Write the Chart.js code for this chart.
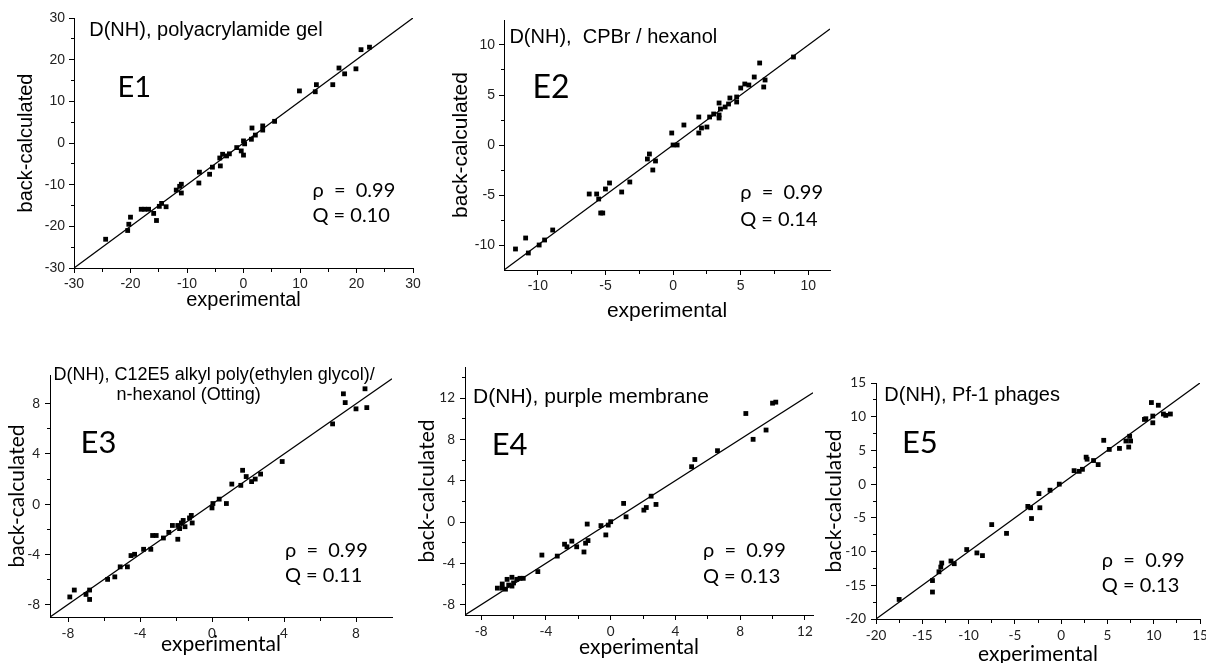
<!DOCTYPE html>
<html>
<head>
<meta charset="utf-8">
<script src="https://cdn.jsdelivr.net/npm/chart.js@4.4.1/dist/chart.umd.min.js"></script>
<style>
  html, body { margin: 0; padding: 0; background: #fff; overflow: hidden; }
  body { position: relative; width: 1206px; height: 663px; }
  canvas { position: absolute; }
</style>
</head>
<body>
<canvas id="e1"></canvas>
<canvas id="e2"></canvas>
<canvas id="e3"></canvas>
<canvas id="e4"></canvas>
<canvas id="e5"></canvas>
<script>
// E1: polyacrylamide gel
var e1Exp  = [-24.4, -20.5, -20.3, -20.0, -18.1, -17.5, -16.8, -15.9, -15.4, -14.9, -14.5, -13.7, -11.9, -11.3, -11.0, -11.0, -7.9, -7.8, -6.0, -5.5, -4.1, -4.2, -3.7, -3.0, -2.5, -1.2, -0.4, 0.0, 0.0, 0.2, 1.4, 1.5, 2.1, 3.4, 3.4, 5.5, 9.9, 12.7, 12.9, 15.8, 16.9, 17.9, 19.9, 20.8, 22.3];
var e1Calc = [-23.1, -21.0, -19.5, -17.8, -15.9, -15.9, -15.9, -16.9, -18.6, -15.2, -14.5, -15.3, -11.3, -10.4, -9.9, -12.0, -9.6, -7.0, -7.5, -5.8, -5.5, -3.6, -2.7, -3.1, -2.6, -1.1, -1.9, -2.9, 0.5, -0.2, 0.9, 3.6, 1.9, 3.1, 4.1, 5.2, 12.5, 12.3, 14.0, 14.0, 18.0, 16.6, 17.8, 22.4, 23.0];

// E2: CPBr / hexanol
var e2Exp  = [8.9, 6.4, 6.0, 6.8, 6.7, 5.6, 5.3, 5.0, 4.7, 4.7, 4.2, 4.1, 3.85, 3.4, 3.5, 3.4, 3.4, 3.0, 2.7, 1.9, 2.1, 2.5, 1.9, 0.8, -0.1, 0.0, 0.3, -1.75, -1.9, -1.3, -1.5, -3.2, -4.7, -3.8, -5.0, -5.65, -6.2, -5.5, -5.35, -5.2, -8.9, -9.5, -9.9, -10.9, -10.7, -11.65];
var e2Calc = [8.8, 8.2, 6.8, 6.5, 5.8, 6.0, 6.1, 5.7, 4.8, 4.3, 4.7, 4.1, 3.8, 4.2, 3.6, 3.0, 2.7, 3.1, 2.8, 2.8, 1.7, 1.8, 1.2, 2.0, 1.2, 0.0, 0.0, -0.9, -1.4, -1.6, -2.5, -3.7, -3.8, -4.7, -4.4, -4.9, -4.9, -5.4, -6.8, -6.8, -8.5, -9.5, -10.0, -9.3, -10.8, -10.4];

// E3: C12E5 / n-hexanol
var e3Exp  = [7.3, 7.4, 8.5, 8.6, 8.0, 6.7, 3.9, 1.7, 1.9, 2.2, 2.4, 2.7, 1.6, 1.1, 0.8, 0.4, 0.05, 0.0, -1.15, -1.25, -1.1, -1.6, -1.7, -1.5, -1.8, -1.9, -2.2, -1.9, -2.4, -2.7, -3.1, -3.3, -3.4, -3.8, -4.3, -4.5, -4.7, -5.1, -5.4, -5.8, -6.8, -7.0, -6.8, -7.65, -7.9];
var e3Calc = [8.8, 8.1, 9.2, 7.7, 7.6, 6.4, 3.4, 2.7, 2.2, 1.8, 2.0, 2.4, 1.5, 1.6, 0.05, 0.4, 0.05, -0.3, -0.9, -1.1, -1.5, -1.3, -1.5, -1.8, -1.95, -1.7, -1.7, -2.8, -2.25, -2.7, -2.5, -2.5, -3.6, -3.6, -4.0, -4.1, -5.0, -5.0, -5.8, -6.0, -6.85, -7.2, -7.6, -6.85, -7.4];

// E4: purple membrane
var e4Exp  = [10.2, 10.0, 8.35, 9.6, 8.8, 6.6, 5.2, 5.0, 2.5, 2.8, 0.8, 2.2, 2.05, 0.95, 0.0, -0.15, -0.6, -0.3, -1.45, -1.4, -1.55, -1.65, -2.1, -2.4, -2.7, -2.85, -3.3, -4.25, -4.5, -5.4, -5.6, -5.8, -6.1, -6.4, -6.0, -6.1, -6.3, -6.7, -6.7, -7.0, -6.5];
var e4Calc = [11.6, 11.5, 10.5, 8.9, 8.0, 6.9, 6.05, 5.35, 2.5, 1.7, 1.8, 1.4, 1.15, 0.5, 0.03, -0.3, -0.35, -1.25, -0.2, -1.8, -2.05, -2.9, -2.4, -1.85, -2.4, -2.15, -3.3, -3.2, -4.8, -5.45, -5.45, -5.55, -5.35, -5.55, -5.9, -6.2, -6.1, -6.0, -6.4, -6.4, -6.5];

// E5: Pf-1 phages
var e5Exp  = [9.75, 10.5, 9.9, 9.9, 9.15, 9.0, 11.05, 11.3, 11.8, 7.5, 7.0, 7.4, 7.3, 6.3, 5.2, 4.6, 4.0, 3.5, 2.7, 2.8, 2.3, 1.95, 1.4, -0.2, -1.2, -2.4, -3.6, -3.3, -2.3, -3.2, -7.5, -5.9, -10.2, -9.1, -8.5, -11.9, -11.55, -12.9, -13.0, -13.2, -13.9, -13.9, -17.5];
var e5Calc = [12.1, 11.7, 10.1, 9.1, 9.7, 9.6, 10.4, 10.2, 10.4, 6.4, 6.4, 7.1, 5.5, 5.3, 5.15, 6.5, 2.9, 3.5, 4.0, 3.7, 2.2, 1.9, 2.0, 0.0, -0.9, -1.4, -3.3, -3.5, -3.5, -5.1, -6.0, -7.3, -9.7, -10.2, -10.6, -11.4, -11.8, -11.7, -12.3, -13.0, -14.3, -16.0, -17.1];

// tick labels (major) and unlabeled minor ticks
var e1Major = [-30, -20, -10, 0, 10, 20, 30];
var e1Minor = [-25, -15, -5, 5, 15, 25];
var e2Major = [-10, -5, 0, 5, 10];
var e2Minor = [-7.5, -2.5, 2.5, 7.5];
var e3Major = [-8, -4, 0, 4, 8];
var e3Minor = [-6, -2, 2, 6];
var e4Major = [-8, -4, 0, 4, 8, 12];
var e4XMinor = [-6, -2, 2, 6, 10];
var e4YMinor = [-6, -2, 2, 6, 10, 14];
var e5Major = [-20, -15, -10, -5, 0, 5, 10, 15];
var e5Minor = [-17.5, -12.5, -7.5, -2.5, 2.5, 7.5, 12.5];

var arial = "'Liberation Sans', Arial, sans-serif";
var myriad = "Lato, 'Open Sans', 'DejaVu Sans', sans-serif";

function axisOpts(min, max, major, minor, titleText, isX, p) {
  var all = major.concat(minor).sort(function (a, b) { return a - b; });
  var isMinor = function (c) { return c.tick && major.indexOf(c.tick.value) < 0; };
  return {
    type: 'linear',
    position: isX ? 'bottom' : 'left',
    min: min,
    max: max,
    afterBuildTicks: function (s) {
      s.ticks = all.map(function (v) { return { value: v }; });
    },
    afterFit: function (s) {
      if (isX) { s.height = p.padB; s.paddingLeft = 0; s.paddingRight = 0; }
      else { s.width = p.padL; s.paddingTop = 0; s.paddingBottom = 0; }
    },
    border: { display: true, color: '#000', width: 1 },
    grid: {
      display: true,
      drawOnChartArea: false,
      drawTicks: true,
      tickLength: 5,
      tickColor: '#000',
      tickWidth: 1,
      tickBorderDash: function (c) { return isMinor(c) ? (isX ? [3, 10] : [3, 2]) : []; },
      tickBorderDashOffset: function (c) { return isMinor(c) && !isX ? 3 : 0; }
    },
    ticks: {
      autoSkip: false,
      maxRotation: 0,
      padding: p.tickPad,
      color: '#222',
      font: { family: p.tickFamily, size: p.tickSize, lineHeight: 1 },
      callback: function (v) { return major.indexOf(v) >= 0 ? String(v) : ''; }
    },
    title: {
      display: true,
      text: titleText,
      color: '#000',
      padding: 0,
      font: { family: p.titleFamily, size: p.titleSize, lineHeight: 1 }
    }
  };
}

function makePanel(p) {
  var padT = 14, padR = 18;
  var a = p.area;
  var canvas = document.getElementById(p.id);
  canvas.width = a.R - a.L + p.padL + padR;
  canvas.height = a.B - a.T + padT + p.padB;
  canvas.style.left = (a.L - p.padL) + 'px';
  canvas.style.top = (a.T - padT) + 'px';

  var points = p.exp.map(function (x, i) { return { x: x, y: p.calc[i] }; });
  var lo = Math.max(p.x[0], p.y[0]);
  var hi = Math.min(p.x[1], p.y[1]);

  new Chart(canvas, {
    type: 'scatter',
    data: {
      datasets: [
        {
          type: 'line',
          data: [{ x: lo, y: lo }, { x: hi, y: hi }],
          borderColor: '#000',
          borderWidth: 1.3,
          pointRadius: 0,
          fill: false,
          order: 2
        },
        {
          data: points,
          pointStyle: 'rect',
          pointRadius: 3.4,
          backgroundColor: '#000',
          borderWidth: 0,
          order: 1
        }
      ]
    },
    options: {
      responsive: false,
      animation: false,
      devicePixelRatio: 1,
      layout: { padding: { top: padT, right: padR, left: 0, bottom: 0 } },
      plugins: { legend: { display: false }, tooltip: { enabled: false } },
      scales: {
        x: axisOpts(p.x[0], p.x[1], p.xMajor, p.xMinor, 'experimental', true, p),
        y: axisOpts(p.y[0], p.y[1], p.yMajor, p.yMinor, 'back-calculated', false, p)
      }
    },
    plugins: [{
      id: 'notes',
      afterDraw: function (chart) {
        var ctx = chart.ctx;
        ctx.save();
        ctx.fillStyle = '#000';
        ctx.textAlign = 'left';
        ctx.textBaseline = 'middle';
        p.notes.forEach(function (n) {
          ctx.font = n.font;
          ctx.fillText(n.text, chart.scales.x.getPixelForValue(n.x), chart.scales.y.getPixelForValue(n.y));
        });
        ctx.restore();
      }
    }]
  });
}

makePanel({
  id: 'e1', exp: e1Exp, calc: e1Calc,
  x: [-30, 30], y: [-30, 30],
  xMajor: e1Major, xMinor: e1Minor, yMajor: e1Major, yMinor: e1Minor,
  area: { L: 74, T: 18, R: 413, B: 268 }, padL: 58, padB: 42,
  tickFamily: arial, tickSize: 14, tickPad: 4, titleFamily: arial, titleSize: 20,
  notes: [
    { text: 'D(NH), polyacrylamide gel', x: -27.3, y: 27.1, font: '20px ' + arial },
    { text: 'E1', x: -22.3, y: 13.4, font: '29px ' + myriad },
    { text: 'ρ  =  0.99', x: 12.2, y: -11.3, font: '20px ' + myriad },
    { text: 'Q = 0.10', x: 12.2, y: -17.3, font: '20px ' + myriad }
  ]
});

makePanel({
  id: 'e2', exp: e2Exp, calc: e2Calc,
  x: [-12.5, 11.6], y: [-12.5, 12.5],
  xMajor: e2Major, xMinor: e2Minor, yMajor: e2Major, yMinor: e2Minor,
  area: { L: 504, T: 20, R: 830, B: 270 }, padL: 53, padB: 52,
  tickFamily: arial, tickSize: 14, tickPad: 4, titleFamily: arial, titleSize: 21,
  notes: [
    { text: 'D(NH),  CPBr / hexanol', x: -12.1, y: 10.8, font: '20px ' + arial },
    { text: 'E2', x: -10.4, y: 5.7, font: '32px ' + myriad },
    { text: 'ρ  =  0.99', x: 4.96, y: -4.8, font: '20px ' + myriad },
    { text: 'Q = 0.14', x: 4.96, y: -7.5, font: '20px ' + myriad }
  ]
});

makePanel({
  id: 'e3', exp: e3Exp, calc: e3Calc,
  x: [-9, 10], y: [-9, 10.3],
  xMajor: e3Major, xMinor: e3Minor, yMajor: e3Major, yMinor: e3Minor,
  area: { L: 50, T: 375, R: 392, B: 617 }, padL: 43, padB: 38,
  tickFamily: myriad, tickSize: 13.5, tickPad: 5, titleFamily: myriad, titleSize: 21,
  notes: [
    { text: 'D(NH), C12E5 alkyl poly(ethylen glycol)/', x: -8.8, y: 10.3, font: '18px ' + arial },
    { text: 'n-hexanol (Otting)', x: -5.3, y: 8.7, font: '18px ' + arial },
    { text: 'E3', x: -7.3, y: 4.9, font: '31px ' + myriad },
    { text: 'ρ  =  0.99', x: 4.05, y: -3.7, font: '20px ' + myriad },
    { text: 'Q = 0.11', x: 4.05, y: -5.7, font: '20px ' + myriad }
  ]
});

makePanel({
  id: 'e4', exp: e4Exp, calc: e4Calc,
  x: [-9, 12.5], y: [-9, 15],
  xMajor: e4Major, xMinor: e4XMinor, yMajor: e4Major, yMinor: e4YMinor,
  area: { L: 465, T: 367, R: 813, B: 615 }, padL: 48, padB: 43,
  tickFamily: myriad, tickSize: 13.5, tickPad: 5, titleFamily: myriad, titleSize: 21,
  notes: [
    { text: 'D(NH), purple membrane', x: -8.5, y: 12.1, font: '21px ' + arial },
    { text: 'E4', x: -7.35, y: 7.5, font: '31px ' + myriad },
    { text: 'ρ  =  0.99', x: 5.7, y: -2.8, font: '20px ' + myriad },
    { text: 'Q = 0.13', x: 5.7, y: -5.3, font: '20px ' + myriad }
  ]
});

makePanel({
  id: 'e5', exp: e5Exp, calc: e5Calc,
  x: [-20, 15], y: [-20, 15],
  xMajor: e5Major, xMinor: e5Minor, yMajor: e5Major, yMinor: e5Minor,
  area: { L: 876, T: 383, R: 1200, B: 619 }, padL: 52, padB: 46,
  tickFamily: myriad, tickSize: 13.5, tickPad: 5, titleFamily: myriad, titleSize: 21,
  notes: [
    { text: 'D(NH), Pf-1 phages', x: -19.1, y: 13.1, font: '20px ' + arial },
    { text: 'E5', x: -17.2, y: 6.1, font: '31px ' + myriad },
    { text: 'ρ  =  0.99', x: 4.4, y: -11.4, font: '20px ' + myriad },
    { text: 'Q = 0.13', x: 4.4, y: -15.1, font: '20px ' + myriad }
  ]
});
</script>
</body>
</html>
